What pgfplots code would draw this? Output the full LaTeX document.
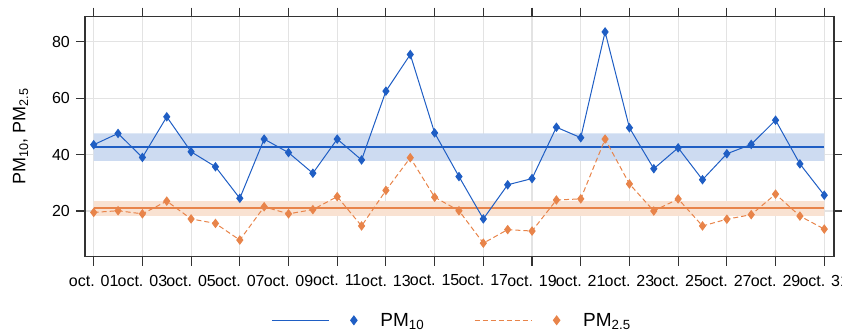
\documentclass[border=0pt]{standalone}
\usepackage{fontspec}
\setmainfont{Liberation Sans}
\usepackage{pgfplots}
\pgfplotsset{compat=1.18}
\definecolor{pmblue}{HTML}{1F5EC4}
\definecolor{pmorange}{HTML}{E8844A}
\definecolor{bandblue}{HTML}{CDDBF1}
\definecolor{bandorange}{HTML}{F9E2D2}
\definecolor{gridgray}{HTML}{E3E3E3}
\definecolor{framegray}{HTML}{333333}
\begin{document}
\begin{tikzpicture}[x=1pt,y=1pt]
\path[use as bounding box] (0,0) rectangle (842,334);
\begin{axis}[
  at={(85pt,77.3pt)}, anchor=south west,
  scale only axis, width=749pt, height=240pt,
  xmin=0.643, xmax=31.40, ymin=3.8, ymax=88.9,
  xtick={1,3,...,31},
  xticklabels={oct. 01,oct. 03,oct. 05,oct. 07,oct. 09,oct. 11,oct. 13,oct. 15,oct. 17,oct. 19,oct. 21,oct. 23,oct. 25,oct. 27,oct. 29,oct. 31},
  ytick={20,40,60,80},
  xtick pos=both, ytick pos=both,
  xticklabel pos=lower, yticklabel pos=left,
  tick align=outside,
  major tick length=9pt,
  tick style={framegray, line width=1.1pt},
  axis line style={framegray, line width=1.1pt},
  grid=major,
  grid style={gridgray, line width=1.1pt},
  /pgf/number format/assume math mode=true,
  ticklabel style={font=\fontsize{16}{19}\selectfont},
  xticklabel style={inner sep=1pt, yshift=-8pt},
  yticklabel style={inner sep=1pt, xshift=-5pt},
  ylabel={PM\textsubscript{10}, PM\textsubscript{2.5}},
  every axis y label/.style={at={(axis description cs:-0.086,0.5)}, rotate=90, anchor=center, font=\fontsize{18}{21}\selectfont},
  legend columns=2,
  legend style={draw=none, fill=none, at={(0.49,-0.265)}, anchor=center,
    font=\fontsize{19}{22}\selectfont,
    /tikz/every even column/.append style={column sep=48pt},
    /tikz/every odd column/.append style={column sep=0pt}},
  legend cell align=left,
  legend image code/.code={
    \draw[#1, mark=none] (0pt,0pt) -- (57pt,0pt);
    \draw[#1, solid, mark size=4.3pt] plot[only marks] coordinates {(82pt,0pt)};
    \path (106pt,0pt);
  },
]
% bands
\addplot[forget plot, draw=none, fill=bandblue] coordinates {(1,37.8) (31,37.8) (31,47.5) (1,47.5) (1,37.8)};
\addplot[forget plot, draw=none, fill=bandorange] coordinates {(1,18.3) (31,18.3) (31,23.5) (1,23.5) (1,18.3)};
% mean lines
\addplot[forget plot, color=pmblue, line width=2.2pt] coordinates {(1,42.6) (31,42.6)};
\addplot[forget plot, color=pmorange, line width=2.2pt] coordinates {(1,21.0) (31,21.0)};
% PM10
\addplot[color=pmblue, line width=1pt, mark=diamond*, mark size=4pt, mark options={fill=pmblue, solid}] coordinates {
(1,43.5) (2,47.5) (3,39.0) (4,53.4) (5,41.0) (6,35.7) (7,24.5) (8,45.5) (9,40.7) (10,33.4)
(11,45.5) (12,38.1) (13,62.5) (14,75.5) (15,47.7) (16,32.2) (17,17.2) (18,29.3) (19,31.5)
(20,49.7) (21,46.0) (22,83.5) (23,49.5) (24,35.0) (25,42.4) (26,31.1) (27,40.3) (28,43.6)
(29,52.2) (30,36.7) (31,25.6)};
\addlegendentry{PM\textsubscript{10}}
% PM2.5
\addplot[color=pmorange, line width=1pt, dash pattern=on 5pt off 3pt, mark=diamond*, mark size=4pt, mark options={fill=pmorange, solid}] coordinates {
(1,19.5) (2,20.1) (3,19.0) (4,23.5) (5,17.2) (6,15.6) (7,9.7) (8,21.5) (9,19.0) (10,20.5)
(11,25.1) (12,14.7) (13,27.3) (14,38.9) (15,24.9) (16,20.1) (17,8.6) (18,13.4) (19,12.9)
(20,23.9) (21,24.3) (22,45.5) (23,29.6) (24,20.0) (25,24.3) (26,14.7) (27,17.1) (28,18.7)
(29,26.0) (30,18.2) (31,13.6)};
\addlegendentry{PM\textsubscript{2.5}}
\end{axis}
\end{tikzpicture}
\end{document}
